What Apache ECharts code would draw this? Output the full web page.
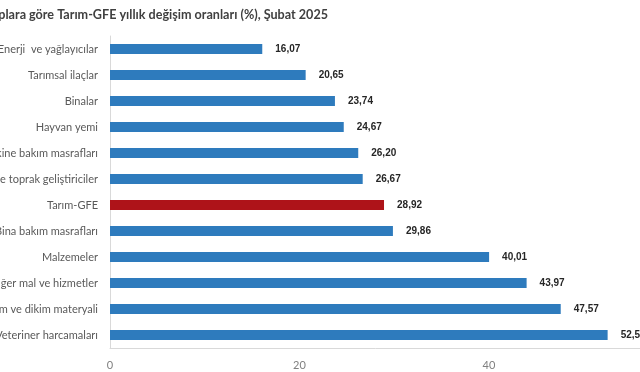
<!DOCTYPE html>
<html>
<head>
<meta charset="utf-8">
<script src="https://cdn.jsdelivr.net/npm/echarts@6/dist/echarts.min.js"></script>
<style>html,body{margin:0;padding:0;background:#fff;}#c{width:640px;height:372px;}</style>
</head>
<body>
<div id="c"></div>
<script>
const titleText = 'Girdi gruplara göre Tarım-GFE yıllık değişim oranları (%), Şubat 2025';
const categories = [
  'Enerji  ve yağlayıcılar',
  'Tarımsal ilaçlar',
  'Binalar',
  'Hayvan yemi',
  'Makine bakım masrafları',
  'Gübre ve toprak geliştiriciler',
  'Tarım-GFE',
  'Bina bakım masrafları',
  'Malzemeler',
  'Diğer mal ve hizmetler',
  'Tohum ve dikim materyali',
  'Veteriner harcamaları'
];
const values = [16.07, 20.65, 23.74, 24.67, 26.20, 26.67, 28.92, 29.86, 40.01, 43.97, 47.57, 52.52];
const highlight = 'Tarım-GFE';
const xTicks = [0, 20, 40, 60];

const chart = echarts.init(document.getElementById('c'));
chart.setOption({
  animation: false,
  title: {
    text: titleText,
    right: 307,
    top: 3,
    textStyle: { fontFamily: 'Lato', fontWeight: 'bold', fontSize: 12.6, color: '#404040' }
  },
  grid: { left: 110, top: 36, width: 568.5, bottom: 24, containLabel: false, outerBoundsMode: 'none' },
  xAxis: {
    type: 'value',
    min: xTicks[0],
    max: xTicks[xTicks.length - 1],
    interval: 20,
    axisLine: { show: true, lineStyle: { color: '#d9d9d9', width: 1 } },
    axisTick: { show: false },
    splitLine: { show: false },
    axisLabel: { color: '#808080', fontFamily: 'Lato', fontSize: 11, margin: 12 }
  },
  yAxis: {
    type: 'category',
    inverse: true,
    data: categories,
    axisLine: { show: true, lineStyle: { color: '#d9d9d9', width: 1 } },
    axisTick: { show: false },
    axisLabel: { color: '#595959', fontFamily: 'Lato', fontSize: 11, margin: 12 }
  },
  series: [{
    type: 'bar',
    barWidth: 10,
    data: values.map((v, i) => ({
      value: v,
      itemStyle: { color: categories[i] === highlight ? '#ae1319' : '#2e7bbd' }
    })),
    label: {
      show: true,
      position: 'right',
      distance: 13,
      color: '#262626',
      fontFamily: 'Liberation Sans',
      fontWeight: 'bold',
      fontSize: 10,
      formatter: p => p.value.toFixed(2).replace('.', ',')
    }
  }]
});
</script>
</body>
</html>
